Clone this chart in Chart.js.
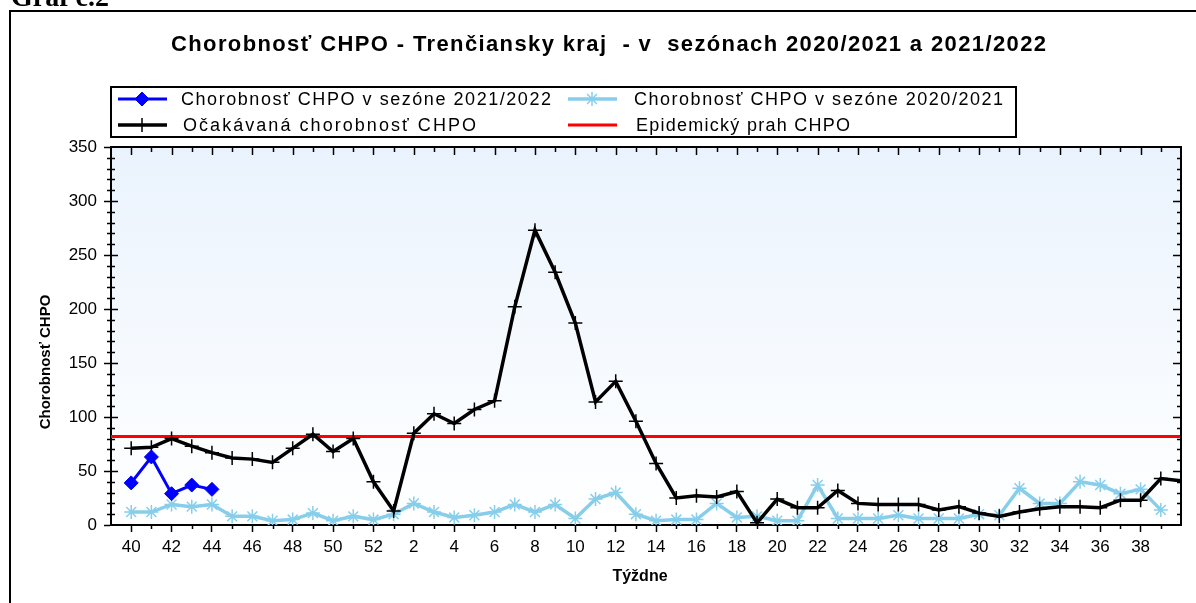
<!DOCTYPE html>
<html>
<head>
<meta charset="utf-8">
<title>Chorobnosť CHPO - Trenčiansky kraj</title>
<script src="https://cdn.jsdelivr.net/npm/chart.js@4"></script>
<style>
  html, body { margin: 0; padding: 0; background: #fff; overflow: hidden; }
  #wrap { position: relative; width: 1196px; height: 603px; }
  #frame { position: absolute; left: 9px; top: 10px; width: 1300px; height: 700px;
           border: 2px solid #000; box-sizing: border-box; pointer-events: none; }
</style>
</head>
<body>
<div id="wrap">
  <canvas id="chpoChart" width="1196" height="603"></canvas>
  <div id="frame"></div>
</div>
<script>
// týždne sezóny (posledný bod leží na pravom okraji grafu)
const weeks = [40, 41, 42, 43, 44, 45, 46, 47, 48, 49, 50, 51, 52,
  1, 2, 3, 4, 5, 6, 7, 8, 9, 10, 11, 12, 13, 14, 15, 16, 17, 18, 19, 20,
  21, 22, 23, 24, 25, 26, 27, 28, 29, 30, 31, 32, 33, 34, 35, 36, 37, 38, 39, 40];

const season2122 = [39, 63, 29, 37, 33];

const season2021 = [12, 12, 19, 17, 19, 8, 8, 4, 5, 11,
  4, 8, 5, 10, 20, 12, 7, 9, 12, 19,
  12, 19, 6, 24, 30, 10, 4, 5, 5, 20,
  7, 8, 4, 4, 37, 6, 6, 6, 9, 6,
  6, 6, 10, 9, 34, 20, 20, 40, 37, 29,
  33, 14];

const expected = [71, 72, 80, 73, 67, 62, 61, 58, 71, 84,
  68, 80, 40, 13, 85, 103, 94, 107, 115, 202,
  273, 234, 187, 114, 133, 96, 57, 25, 27, 26,
  31, 2, 24, 16, 16, 32, 20, 19, 19, 19,
  14, 17, 11, 8, 12, 15, 17, 17, 16, 23,
  23, 43, 41];

const threshold = 82;

const legendLabels = [
  "Chorobnosť CHPO v sezóne 2021/2022",
  "Očakávaná chorobnosť CHPO",
  "Chorobnosť CHPO v sezóne 2020/2021",
  "Epidemický prah CHPO"
];

const chartTitle = "Chorobnosť CHPO - Trenčiansky kraj  - v  sezónach 2020/2021 a 2021/2022";
const yTitle = "Chorobnosť CHPO";
const xTitle = "Týždne";

const X_MIN = -1, X_MAX = weeks.length - 1;
const Y_MAX = 350;

function toPoints(values) {
  return values.map((v, i) => ({ x: i, y: v }));
}

function fitText(ctx, text, x, y, width, font) {
  ctx.font = font;
  ctx.letterSpacing = "0px";
  const w = ctx.measureText(text).width;
  if ("letterSpacing" in ctx) {
    ctx.letterSpacing = ((width - w) / (text.length - 1)) + "px";
  }
  ctx.textAlign = "left";
  ctx.fillText(text, x, y);
  ctx.letterSpacing = "0px";
}

function marker(ctx, style, r, x, y, color, bw) {
  ctx.save();
  ctx.fillStyle = color;
  ctx.strokeStyle = color;
  ctx.lineWidth = bw;
  Chart.helpers.drawPoint(ctx, { pointStyle: style, radius: r, rotation: 0, borderWidth: bw }, x, y);
  ctx.restore();
}

const decor = {
  id: "decor",
  beforeDraw(chart) {
    const { ctx, chartArea: a } = chart;
    const g = ctx.createLinearGradient(0, a.top, 0, a.bottom);
    g.addColorStop(0, "#eaf3fd");
    g.addColorStop(1, "#ffffff");
    ctx.save();
    ctx.fillStyle = g;
    ctx.fillRect(a.left, a.top, a.right - a.left, a.bottom - a.top);
    ctx.restore();
  },
  afterDraw(chart) {
    const { ctx, chartArea: a } = chart;
    const xs = chart.scales.x, ys = chart.scales.y;
    ctx.save();

    // horny a pravy okraj
    ctx.strokeStyle = "#000";
    ctx.lineWidth = 2;
    ctx.beginPath();
    ctx.moveTo(a.left, a.top);
    ctx.lineTo(a.right, a.top);
    ctx.lineTo(a.right, a.bottom);
    ctx.stroke();

    // znacky dovnutra
    ctx.lineWidth = 1.5;
    ctx.beginPath();
    for (let i = X_MIN + 1; i < X_MAX; i++) {
      const px = Math.round(xs.getPixelForValue(i)) + 0.5;
      ctx.moveTo(px, a.top);
      ctx.lineTo(px, a.top + (i % 2 === 0 ? 8 : 5));
      if (i % 2 !== 0) {
        ctx.moveTo(px, a.bottom);
        ctx.lineTo(px, a.bottom + 4);
      }
    }
    for (let v = 10; v < Y_MAX; v += 10) {
      const py = Math.round(ys.getPixelForValue(v)) + 0.5;
      if (v % 50 === 0) {
        ctx.moveTo(a.left, py); ctx.lineTo(a.left + 7, py);
        ctx.moveTo(a.right - 8, py); ctx.lineTo(a.right, py);
      } else {
        ctx.moveTo(a.left - 4, py); ctx.lineTo(a.left + 4, py);
        ctx.moveTo(a.right - 4, py); ctx.lineTo(a.right, py);
      }
    }
    ctx.stroke();

    ctx.fillStyle = "#000";
    ctx.textBaseline = "alphabetic";

    // odrezany nadpis nad ramom
    ctx.font = "bold 28px 'Liberation Serif'";
    ctx.fillText("Graf č.2", 11, 6);

    // titul
    fitText(ctx, chartTitle, 171, 51, 875, "bold 22px 'Liberation Sans'");

    // legenda
    ctx.lineWidth = 2;
    ctx.strokeStyle = "#000";
    ctx.strokeRect(111, 87, 905, 50);
    const items = [
      { ds: 0, lx: 118, y: 99, tx: 181, tw: 370 },
      { ds: 2, lx: 118, y: 125, tx: 183, tw: 293 },
      { ds: 1, lx: 568, y: 99, tx: 634, tw: 369 },
      { ds: 3, lx: 568, y: 125, tx: 636, tw: 214 }
    ];
    items.forEach((it, k) => {
      const d = chart.data.datasets[it.ds];
      ctx.strokeStyle = d.borderColor;
      ctx.lineWidth = d.borderWidth;
      ctx.beginPath();
      ctx.moveTo(it.lx, it.y);
      ctx.lineTo(it.lx + 49, it.y);
      ctx.stroke();
      if (d.pointRadius > 0) {
        marker(ctx, d.pointStyle, d.pointRadius, it.lx + 24, it.y, d.pointBorderColor || d.borderColor, d.pointBorderWidth);
      }
      ctx.fillStyle = "#000";
      fitText(ctx, legendLabels[k], it.tx, it.y + 6, it.tw, "18px 'Liberation Sans'");
    });

    // nazvy osi
    ctx.fillStyle = "#000";
    ctx.font = "bold 15px 'Liberation Sans'";
    ctx.textAlign = "center";
    ctx.textBaseline = "middle";
    ctx.save();
    ctx.translate(46, 362);
    ctx.rotate(-Math.PI / 2);
    ctx.fillText(yTitle, 0, 0);
    ctx.restore();
    ctx.font = "bold 16px 'Liberation Sans'";
    ctx.textBaseline = "alphabetic";
    ctx.fillText(xTitle, 640, 581);

    ctx.restore();
  }
};

const ctx = document.getElementById("chpoChart").getContext("2d");
new Chart(ctx, {
  type: "line",
  data: {
    datasets: [
      {
        label: legendLabels[0],
        data: toPoints(season2122),
        borderColor: "#0000ff",
        backgroundColor: "#0000ff",
        borderWidth: 3,
        pointStyle: "rectRot",
        pointRadius: 7,
        pointBorderWidth: 1,
        pointBackgroundColor: "#0000ff",
        pointBorderColor: "#0000ff",
        order: 0
      },
      {
        label: legendLabels[2],
        data: toPoints(season2021),
        borderColor: "#87ceeb",
        backgroundColor: "#87ceeb",
        borderWidth: 3.5,
        pointStyle: "star",
        pointRadius: 7,
        pointBorderWidth: 1.5,
        pointBorderColor: "#87ceeb",
        order: 3
      },
      {
        label: legendLabels[1],
        data: toPoints(expected),
        borderColor: "#000000",
        backgroundColor: "#000000",
        borderWidth: 3.5,
        pointStyle: "cross",
        pointRadius: 7,
        pointBorderWidth: 1.5,
        pointBorderColor: "#000000",
        order: 1
      },
      {
        label: legendLabels[3],
        data: [{ x: X_MIN, y: threshold }, { x: X_MAX, y: threshold }],
        borderColor: "#ff0000",
        backgroundColor: "#ff0000",
        borderWidth: 3,
        pointRadius: 0,
        order: 2
      }
    ]
  },
  options: {
    responsive: false,
    animation: false,
    events: [],
    layout: { padding: { top: 147, right: 15, bottom: 0, left: 0 } },
    elements: { line: { tension: 0 } },
    plugins: {
      legend: { display: false },
      tooltip: { enabled: false },
      title: { display: false }
    },
    scales: {
      x: {
        type: "linear",
        min: X_MIN,
        max: X_MAX,
        afterFit: s => { s.height = 78; },
        border: { color: "#000", width: 2 },
        grid: {
          drawOnChartArea: false,
          tickLength: 7,
          tickWidth: 1.5,
          tickColor: c => (c.tick && c.tick.value % 2 === 0 && c.tick.value >= 0 && c.tick.value <= 50) ? "#000" : "rgba(0,0,0,0)"
        },
        ticks: {
          stepSize: 1,
          autoSkip: false,
          maxRotation: 0,
          padding: 5,
          color: "#000",
          font: { family: "'Liberation Sans'", size: 17 },
          callback: v => (v >= 0 && v <= 50 && v % 2 === 0) ? String(weeks[v]) : ""
        }
      },
      y: {
        min: 0,
        max: Y_MAX,
        afterFit: s => { s.width = 111; },
        border: { color: "#000", width: 2 },
        grid: {
          drawOnChartArea: false,
          tickLength: 7,
          tickWidth: 1.5,
          tickColor: c => (c.tick && c.tick.value % 50 === 0) ? "#000" : "rgba(0,0,0,0)"
        },
        ticks: {
          stepSize: 10,
          autoSkip: false,
          padding: 7,
          color: "#000",
          font: { family: "'Liberation Sans'", size: 17 },
          callback: v => (v % 50 === 0) ? String(v) : ""
        }
      }
    }
  },
  plugins: [decor]
});
</script>
</body>
</html>
